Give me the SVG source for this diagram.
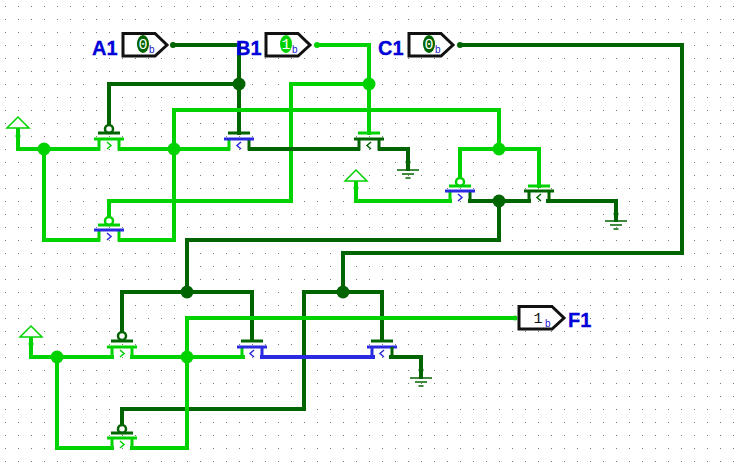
<svg xmlns="http://www.w3.org/2000/svg" xmlns:xlink="http://www.w3.org/1999/xlink" width="738" height="467" viewBox="0 0 738 467">
<style>
.w{fill:none;stroke-width:4;stroke-linejoin:miter;stroke-linecap:square}
.t{fill:none;stroke-width:3}
.th{fill:none;stroke-width:3}
.a{fill:none;stroke-width:1.500}
.on{stroke:#00d200}.off{stroke:#006400}.x{stroke:#2a2ae0}
.jon{fill:#00d200}.joff{fill:#006400}
.pin{fill:#fff;stroke:#111;stroke-width:3}
.lbl{font:bold 20px "Liberation Sans",Arial,sans-serif;fill:#0000d8;stroke:#0000d8;stroke-width:.3}
.val{font:15px "Liberation Mono","DejaVu Sans Mono",monospace;fill:#fff;text-anchor:middle}
.sub{font:10px "Liberation Sans",Arial,sans-serif;fill:#2020d0}
.g{stroke:#006400;stroke-width:1.500}
.p{fill:#fff;stroke:#00d200;stroke-width:1.500}
.b{fill:#fff;stroke-width:2.500}
</style>
<defs>
<pattern id="dots" width="13" height="13" patternUnits="userSpaceOnUse" x="5" y="6"><rect x="0" y="0" width="1" height="1" fill="#777"/></pattern>
<g id="gnd"><path class="g" d="M-11 0H11M-6 4H6M-2.500 8H2.500" fill="none"/></g>
<polygon id="pw" class="p" points="-11,11 0,0 11,11"/>
</defs>
<rect width="738" height="467" fill="#fff"/>
<rect width="738" height="467" fill="url(#dots)"/>
<g id="connectors">
<path class="w off" d="M173 45H239V133M239 84H109V125"/>
<path class="w on" d="M317 45H369V133M369 84H291V201H109V216"/>
<path class="w off" d="M460 45H682V253H343V292M304 409V292H382V340M304 409H122V425"/>
<path class="w on" d="M18 130V149H98M44 149V240H98M120 149H228M120 240H174V110H499V149M460 178V149H539V186"/>
<path class="w off" d="M250 149H358M380 149H408V169"/>
<path class="w on" d="M356 183V201H450"/>
<path class="w off" d="M470 201H529M548 201H616V220M499 201V240H187V292M122 333V292H252V340"/>
<path class="w on" d="M31 338V357H112M57 357V448H112M132 357H243M132 448H187V318H515"/>
<path class="w x" d="M262 357H373"/>
<path class="w off" d="M391 357H421V377"/>
<circle class="jon" cx="44" cy="149" r="6.500"/><circle class="jon" cx="174" cy="149" r="6.500"/>
<circle class="joff" cx="239" cy="84" r="6.500"/><circle class="jon" cx="369" cy="84" r="6.500"/>
<circle class="jon" cx="499" cy="149" r="6.500"/><circle class="joff" cx="499" cy="201" r="6.500"/>
<circle class="joff" cx="187" cy="292" r="6.500"/><circle class="joff" cx="343" cy="292" r="6.500"/>
<circle class="jon" cx="57" cy="357" r="6.500"/><circle class="jon" cx="187" cy="357" r="6.500"/>
<circle class="joff" cx="173" cy="45" r="3"/><circle class="jon" cx="317" cy="45" r="3"/><circle class="joff" cx="460" cy="45" r="3"/>
<circle class="jon" cx="18" cy="136" r="2.500"/><circle class="jon" cx="356" cy="188" r="2.500"/><circle class="jon" cx="31" cy="344" r="2.500"/>
<circle class="joff" cx="408" cy="162" r="2.500"/><circle class="joff" cx="616" cy="214" r="2.500"/><circle class="joff" cx="421" cy="370" r="2.500"/>
<circle class="jon" cx="515" cy="318" r="2.500"/>
</g>
<g id="A1"><text class="lbl" x="92" y="55">A1</text><path class="pin" d="M123 33.500H155L167 45 155 56H123Z"/><ellipse class="joff" cx="143" cy="44" rx="6" ry="9"/><text class="val" x="143" y="49">0</text><text class="sub" x="149" y="53">b</text></g>
<g id="B1"><text class="lbl" x="236" y="55">B1</text><path class="pin" d="M266 33.500H298L310 45 298 56H266Z"/><ellipse class="jon" cx="286" cy="44" rx="6" ry="9"/><text class="val" x="286" y="49">1</text><text class="sub" x="292" y="53">b</text></g>
<g id="C1"><text class="lbl" x="378" y="55">C1</text><path class="pin" d="M409 33.500H441L453 45 441 56H409Z"/><ellipse class="joff" cx="429" cy="44" rx="6" ry="9"/><text class="val" x="429" y="49">0</text><text class="sub" x="435" y="53">b</text></g>
<g id="F1"><text class="lbl" x="568" y="327">F1</text><path class="pin" d="M519 306.500H552L564 318 552 329H519Z"/><text class="val" x="538" y="323" style="fill:#111">1</text><text class="sub" x="545" y="327">b</text></g>
<g id="pwr1"><use xlink:href="#pw" href="#pw" x="18" y="117"/></g>
<g id="pwr2"><use xlink:href="#pw" href="#pw" x="356" y="170"/></g>
<g id="pwr3"><use xlink:href="#pw" href="#pw" x="31" y="326"/></g>
<g id="gnd1"><use href="#gnd" xlink:href="#gnd" x="408" y="170"/></g>
<g id="gnd2"><use href="#gnd" xlink:href="#gnd" x="616" y="221"/></g>
<g id="gnd3"><use href="#gnd" xlink:href="#gnd" x="421" y="378"/></g>
<g id="tA" transform="translate(109 149)"><circle class="b off" cy="-20" r="4"/><path class="t off" d="M-11-16H11"/><path class="th on" d="M-15-10H15M-10-10V0H-12M10-10V0H12"/><path class="a on" d="M-2-7 2-3.500-2 0"/></g>
<g id="tB" transform="translate(239 149)"><path class="t off" d="M-11-16H11"/><path class="th on" d="M-10-10V0H-12"/><path class="th off" d="M10-10V0H12"/><path class="th x" d="M-15-10H15"/><path class="a x" d="M2-7-2-3.500 2 0"/></g>
<g id="tC" transform="translate(369 149)"><path class="t on" d="M-11-16H11"/><path class="th off" d="M-15-10H15M-10-10V0H-12M10-10V0H12"/><path class="a off" d="M2-7-2-3.500 2 0"/></g>
<g id="tAb" transform="translate(109 240)"><circle class="b on" cy="-19" r="4"/><path class="t on" d="M-11-15H11"/><path class="th on" d="M-10-10V0H-12M10-10V0H12"/><path class="th x" d="M-15-10H15"/><path class="a x" d="M-2-7 2-3.500-2 0"/></g>
<g id="tD" transform="translate(460 201)"><circle class="b on" cy="-19" r="4"/><path class="t on" d="M-11-15H11"/><path class="th on" d="M-10-10V0H-12"/><path class="th off" d="M10-10V0H12"/><path class="th x" d="M-15-10H15"/><path class="a x" d="M-2-7 2-3.500-2 0"/></g>
<g id="tE" transform="translate(539 201)"><path class="t on" d="M-11-15H11"/><path class="th off" d="M-15-10H15M-10-10V0H-12M10-10V0H12"/><path class="a off" d="M2-7-2-3.500 2 0"/></g>
<g id="tF" transform="translate(122 357)"><circle class="b off" cy="-21" r="4"/><path class="t off" d="M-11-16H11"/><path class="th on" d="M-15-10H15M-10-10V0H-12M10-10V0H12"/><path class="a on" d="M-2-7 2-3.500-2 0"/></g>
<g id="tG" transform="translate(252 357)"><path class="t off" d="M-11-16H11"/><path class="th on" d="M-10-10V0H-12"/><path class="th x" d="M10-10V0H12M-15-10H15"/><path class="a x" d="M2-7-2-3.500 2 0"/></g>
<g id="tH" transform="translate(382 357)"><path class="t off" d="M-11-16H11"/><path class="th x" d="M-10-10V0H-12M-15-10H15"/><path class="th off" d="M10-10V0H12"/><path class="a x" d="M2-7-2-3.500 2 0"/></g>
<g id="tI" transform="translate(122 448)"><circle class="b off" cy="-19" r="4"/><path class="t off" d="M-11-15H11"/><path class="th on" d="M-15-10H15M-10-10V0H-12M10-10V0H12"/><path class="a on" d="M-2-7 2-3.500-2 0"/></g>
</svg>
